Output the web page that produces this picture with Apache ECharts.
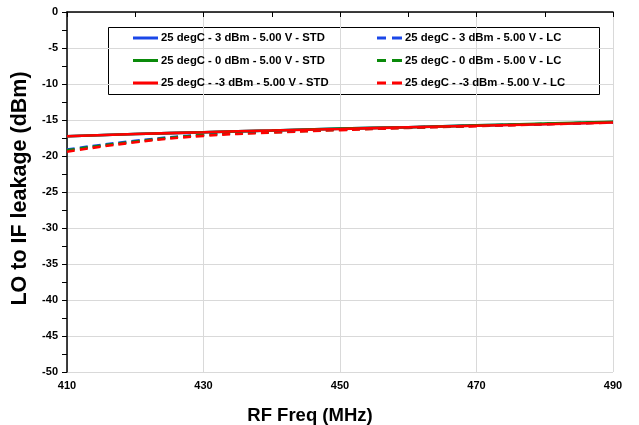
<!DOCTYPE html>
<html><head><meta charset="utf-8">
<script src="https://cdn.jsdelivr.net/npm/echarts@6/dist/echarts.min.js"></script>
<style>html,body{margin:0;padding:0;background:#fff}#c{width:639px;height:425px}</style>
</head><body><div id="c"></div>
<script>
const freqs = [410, 420, 430, 440, 450, 460, 470, 480, 490];
const std3  = [-17.25, -16.95, -16.7, -16.45, -16.2, -16.0, -15.75, -15.55, -15.3];
const std0  = [-17.25, -16.95, -16.7, -16.45, -16.2, -16.0, -15.75, -15.5, -15.25];
const stdm3 = [-17.25, -16.95, -16.7, -16.45, -16.25, -16.0, -15.8, -15.6, -15.35];
const lc3   = [-19.1, -17.9, -17.05, -16.65, -16.3, -16.05, -15.8, -15.55, -15.3];
const lc0   = [-19.2, -18.0, -17.1, -16.7, -16.35, -16.05, -15.8, -15.55, -15.3];
const lcm3  = [-19.4, -18.1, -17.2, -16.75, -16.4, -16.1, -15.85, -15.6, -15.35];
const names = [
  '25 degC - 3 dBm - 5.00 V - STD', '25 degC - 0 dBm - 5.00 V - STD', '25 degC - -3 dBm - 5.00 V - STD',
  '25 degC - 3 dBm - 5.00 V - LC', '25 degC - 0 dBm - 5.00 V - LC', '25 degC - -3 dBm - 5.00 V - LC'
];
const yTicks = [0, -5, -10, -15, -20, -25, -30, -35, -40, -45, -50];
const xTicks = [410, 430, 450, 470, 490];

const colors = ['#1a47e8', '#0a8a0a', '#ff0000'];
const font = 'Arial, "Liberation Sans", sans-serif';
function mk(name, arr, color, dashed) {
  return {
    name, type: 'line', data: freqs.map((f, i) => [f, arr[i]]),
    symbol: 'none', smooth: true,
    lineStyle: { color, width: 2.6, type: dashed ? [8, 5] : 'solid' },
    itemStyle: { color }
  };
}
const chart = echarts.init(document.getElementById('c'), null, { renderer: 'canvas' });
const rowY = [39.5, 62, 84.5];
const solidIcon = 'path://M0,0H25V3H0Z';
const dashIcon = 'path://M0,0H9V3H0Z M15,0H25V3H15Z';
const legends = names.map((n, i) => ({
  orient: 'vertical', itemWidth: 25, itemHeight: 3, padding: 0,
  left: i < 3 ? 133 : 377, top: rowY[i % 3] - 7,
  icon: i < 3 ? solidIcon : dashIcon,
  textStyle: { fontFamily: font, fontWeight: 'bold', fontSize: 11.3, color: '#000', padding: [0, 0, 0, -2] },
  data: [n]
}));
const axTick = { show: true, length: 5, lineStyle: { color: '#000' } };
const axMinor = { show: true, splitNumber: 2, length: 5, lineStyle: { color: '#000' } };
chart.setOption({
  animation: false,
  grid: { left: 67, right: 26, top: 12, bottom: 53, containLabel: false, outerBoundsMode: 'none' },
  xAxis: {
    type: 'value', min: 410, max: 490, interval: 20,
    name: 'RF Freq (MHz)', nameLocation: 'middle', nameGap: 34,
    nameTextStyle: { fontFamily: font, fontWeight: 'bold', fontSize: 18.5, color: '#000', padding: [0, 60, 0, 0] },
    axisLine: { lineStyle: { color: '#000', width: 1.5 } },
    axisTick: axTick, minorTick: axMinor,
    axisLabel: { fontFamily: font, fontWeight: 'bold', fontSize: 11, color: '#000', margin: 8,
      formatter: v => xTicks.includes(v) ? String(v) : '' },
    splitLine: { show: true, lineStyle: { color: '#d9d9d9', width: 1 } }
  },
  yAxis: {
    type: 'value', min: -50, max: 0, interval: 5,
    name: 'LO to IF leakage (dBm)', nameLocation: 'middle', nameGap: 32,
    nameTextStyle: { fontFamily: font, fontWeight: 'bold', fontSize: 21.5, color: '#000', padding: [0, 0, 0, 7] },
    axisLine: { show: true, onZero: false, lineStyle: { color: '#000', width: 1.5 } },
    axisTick: axTick, minorTick: axMinor,
    axisLabel: { fontFamily: font, fontWeight: 'bold', fontSize: 11, color: '#000', margin: 9,
      formatter: v => yTicks.includes(v) ? String(v) : '' },
    splitLine: { show: true, lineStyle: { color: '#d9d9d9', width: 1 } }
  },
  legend: legends,
  graphic: [{
    type: 'rect', shape: { x: 108.5, y: 27.5, width: 491, height: 67 },
    style: { fill: '#fff', stroke: '#000', lineWidth: 1 }, z: -1
  }],
  series: [
    mk(names[3], lc3, colors[0], true),
    mk(names[4], lc0, colors[1], true),
    mk(names[5], lcm3, colors[2], true),
    mk(names[0], std3, colors[0], false),
    mk(names[1], std0, colors[1], false),
    mk(names[2], stdm3, colors[2], false)
  ]
});
</script></body></html>
